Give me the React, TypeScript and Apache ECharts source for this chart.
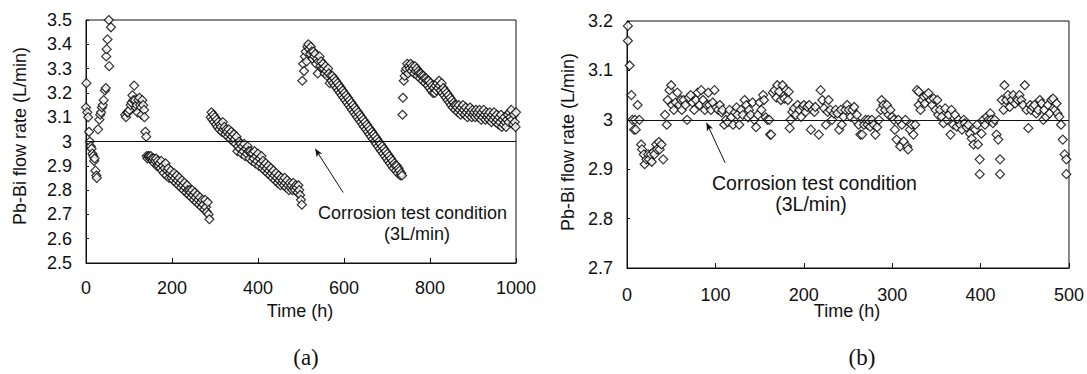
import React, { useEffect, useRef } from "react";
import * as echarts from "echarts";

// ---------- Panel (a): Pb-Bi flow rate vs time, 0-1000 h ----------
const A_SEG1: number[][] = [
  [1, 3.24], [0, 3.14], [3, 3.12], [5, 3.1], [7, 3.04], [9, 3.0], [11, 2.98], [13, 2.97], [15, 2.95],
  [17, 2.94], [19, 2.92], [20, 2.93], [22, 2.88], [24, 2.86], [25, 2.85],
];
const A_SEG2: number[][] = [
  [28, 3.05], [31, 3.09], [33, 3.11], [35, 3.12], [37, 3.14], [39, 3.15], [41, 3.17], [44, 3.21], [46, 3.22],
  [47, 3.35], [48, 3.38], [50, 3.42], [54, 3.31], [53, 3.5], [58, 3.47],
];
const A_SEG3: number[][] = [
  [91, 3.11], [93, 3.1], [96, 3.12], [98, 3.12], [101, 3.13], [104, 3.15], [106, 3.16], [108, 3.19], [110, 3.17],
  [112, 3.23], [114, 3.17], [116, 3.14], [118, 3.15], [120, 3.12], [122, 3.17], [124, 3.18], [126, 3.15],
  [128, 3.14], [129, 3.11], [131, 3.17], [133, 3.15], [135, 3.13], [136, 3.1], [138, 3.04], [140, 3.02],
];
const A_SEG4: number[][] = [
  [141, 2.94], [143, 2.93], [145, 2.94], [147, 2.94], [149, 2.93], [151, 2.94], [153, 2.93], [155, 2.92],
  [157, 2.93], [159, 2.91], [161, 2.92], [163, 2.93], [165, 2.9], [167, 2.92], [169, 2.9], [171, 2.91],
  [173, 2.89], [175, 2.92], [177, 2.88], [179, 2.9], [181, 2.87], [183, 2.89], [185, 2.91], [187, 2.86],
  [189, 2.88], [191, 2.89], [193, 2.85], [195, 2.87], [197, 2.88], [199, 2.85], [201, 2.86], [203, 2.84],
  [205, 2.87], [207, 2.85], [209, 2.83], [211, 2.86], [213, 2.84], [215, 2.82], [217, 2.85], [219, 2.83],
  [221, 2.81], [223, 2.84], [225, 2.82], [227, 2.8], [229, 2.83], [231, 2.81], [233, 2.79], [235, 2.82],
  [237, 2.8], [239, 2.78], [241, 2.8], [243, 2.79], [245, 2.77], [247, 2.8], [249, 2.78], [251, 2.76],
  [253, 2.79], [255, 2.77], [257, 2.75], [259, 2.78], [261, 2.76], [263, 2.74], [265, 2.77], [267, 2.75],
  [269, 2.73], [271, 2.76], [273, 2.74], [275, 2.72], [277, 2.76], [279, 2.73], [281, 2.71], [283, 2.75],
  [285, 2.7], [287, 2.68],
];
const A_SEG5: number[][] = [
  [290, 3.1], [292, 3.12], [294, 3.09], [296, 3.11], [298, 3.08], [300, 3.1], [302, 3.07], [304, 3.09],
  [306, 3.06], [308, 3.08], [310, 3.05], [312, 3.07], [314, 3.06], [316, 3.04], [318, 3.08], [320, 3.05],
  [322, 3.06], [324, 3.03], [326, 3.05], [328, 3.04], [330, 3.02], [332, 3.05], [334, 3.03], [336, 3.01],
  [338, 3.04], [340, 3.02], [342, 3.0], [344, 3.03], [346, 3.01], [348, 2.99], [350, 3.02], [352, 2.96],
  [354, 2.98], [356, 3.0], [358, 2.97], [360, 2.99], [362, 2.95], [364, 2.98], [366, 2.96], [368, 2.99],
  [370, 2.94], [372, 2.97], [374, 2.95], [376, 2.98], [378, 2.96], [380, 2.93], [382, 2.96], [384, 2.95],
  [386, 2.92], [388, 2.95], [390, 2.93], [392, 2.96], [394, 2.91], [396, 2.94], [398, 2.92], [400, 2.95],
  [402, 2.9], [404, 2.93], [406, 2.91], [408, 2.94], [410, 2.89], [412, 2.92], [414, 2.9], [416, 2.88],
  [418, 2.91], [420, 2.89], [422, 2.87], [424, 2.9], [426, 2.88], [428, 2.86], [430, 2.89], [432, 2.87],
  [434, 2.85], [436, 2.88], [438, 2.86], [440, 2.84], [442, 2.87], [444, 2.85], [446, 2.83], [448, 2.86],
  [450, 2.84], [452, 2.82], [454, 2.85], [456, 2.83], [458, 2.84], [460, 2.82], [462, 2.85], [464, 2.83],
  [466, 2.81], [468, 2.84], [470, 2.82], [472, 2.8], [474, 2.83], [476, 2.81], [478, 2.82], [480, 2.8],
  [482, 2.83], [484, 2.81], [486, 2.8], [488, 2.82], [490, 2.81], [492, 2.79], [494, 2.82], [496, 2.8],
  [498, 2.78], [500, 2.76], [502, 2.74],
];
const A_SEG6: number[][] = [
  [503, 3.25], [505, 3.32], [507, 3.29], [509, 3.35], [511, 3.37], [513, 3.33], [515, 3.39], [517, 3.4],
  [519, 3.38], [521, 3.36], [523, 3.39], [525, 3.37], [527, 3.34], [529, 3.37], [531, 3.35], [533, 3.36],
  [535, 3.32], [537, 3.34], [539, 3.28], [541, 3.33], [543, 3.35], [545, 3.31], [547, 3.33], [549, 3.3],
  [551, 3.32], [553, 3.3], [555, 3.28], [557, 3.31], [559, 3.29], [561, 3.27], [563, 3.3], [565, 3.28],
  [567, 3.24], [569, 3.27], [571, 3.25], [573, 3.27], [575, 3.24], [577, 3.26], [579, 3.23], [581, 3.25],
  [583, 3.22], [585, 3.24], [587, 3.21], [589, 3.23], [591, 3.2], [593, 3.22], [595, 3.19], [597, 3.21],
  [599, 3.18], [601, 3.2], [603, 3.17], [605, 3.19], [607, 3.16], [609, 3.18], [611, 3.15], [613, 3.17],
  [615, 3.14], [617, 3.16], [619, 3.13], [621, 3.15], [623, 3.12], [625, 3.14], [627, 3.11], [629, 3.13],
  [631, 3.1], [633, 3.12], [635, 3.09], [637, 3.11], [639, 3.08], [641, 3.1], [643, 3.07], [645, 3.09],
  [647, 3.06], [649, 3.08], [651, 3.05], [653, 3.07], [655, 3.04], [657, 3.06], [659, 3.03], [661, 3.05],
  [663, 3.02], [665, 3.04], [667, 3.01], [669, 3.03], [671, 3.0], [673, 3.02], [675, 2.99], [677, 3.01],
  [679, 2.98], [681, 3.0], [683, 2.97], [685, 2.99], [687, 2.96], [689, 2.98], [691, 2.95], [693, 2.97],
  [695, 2.94], [697, 2.96], [699, 2.93], [701, 2.95], [703, 2.92], [705, 2.94], [707, 2.91], [709, 2.93],
  [711, 2.9], [713, 2.92], [715, 2.89], [717, 2.91], [719, 2.9], [721, 2.88], [723, 2.9], [725, 2.87],
  [727, 2.89], [729, 2.88], [731, 2.86], [733, 2.87], [735, 2.86],
];
const A_SEG7: number[][] = [
  [736, 3.11], [737, 3.18], [739, 3.25], [741, 3.27], [743, 3.29], [745, 3.3], [747, 3.32], [749, 3.28],
  [751, 3.31], [753, 3.3], [755, 3.32], [757, 3.29], [759, 3.31], [761, 3.3], [763, 3.28], [765, 3.31],
  [767, 3.29], [769, 3.3], [771, 3.27], [773, 3.29], [775, 3.28], [777, 3.26], [779, 3.28], [781, 3.27],
  [783, 3.25], [785, 3.27], [787, 3.26], [789, 3.24], [791, 3.26], [793, 3.25], [795, 3.23], [797, 3.25],
  [799, 3.22], [801, 3.24], [803, 3.21], [805, 3.23], [807, 3.2], [809, 3.22], [811, 3.2], [813, 3.23],
  [815, 3.21], [817, 3.24], [819, 3.22], [821, 3.25], [823, 3.23], [825, 3.21], [827, 3.24], [829, 3.2],
  [831, 3.22], [833, 3.19], [835, 3.21], [837, 3.18], [839, 3.2], [841, 3.17], [843, 3.19], [845, 3.16],
  [847, 3.18], [849, 3.15], [851, 3.17], [853, 3.14], [855, 3.16], [857, 3.15], [859, 3.13], [861, 3.15],
  [863, 3.14], [865, 3.12], [867, 3.15], [869, 3.13], [871, 3.11], [873, 3.14], [875, 3.12], [877, 3.15],
  [879, 3.13], [881, 3.11], [883, 3.14], [885, 3.12], [887, 3.1], [889, 3.13], [891, 3.11], [893, 3.14],
  [895, 3.12], [897, 3.1], [899, 3.13], [901, 3.11], [903, 3.12], [905, 3.1], [907, 3.13], [909, 3.11],
  [911, 3.12], [913, 3.1], [915, 3.13], [917, 3.11], [919, 3.09], [921, 3.12], [923, 3.1], [925, 3.13],
  [927, 3.11], [929, 3.09], [931, 3.12], [933, 3.1], [935, 3.11], [937, 3.09], [939, 3.12], [941, 3.1],
  [943, 3.08], [945, 3.11], [947, 3.09], [949, 3.12], [951, 3.1], [953, 3.08], [955, 3.11], [957, 3.09],
  [959, 3.07], [961, 3.1], [963, 3.08], [965, 3.11], [967, 3.06], [969, 3.09], [971, 3.07], [973, 3.1],
  [975, 3.08], [977, 3.06], [979, 3.09], [981, 3.11], [983, 3.08], [985, 3.12], [987, 3.1], [989, 3.13],
  [991, 3.09], [993, 3.07], [995, 3.11], [997, 3.08], [999, 3.06], [1000, 3.12],
];

// ---------- Panel (b): Pb-Bi flow rate vs time, 0-500 h ----------
const B_SEG1: number[][] = [
  [1, 3.19], [1, 3.16], [3, 3.11], [5, 3.05], [6, 3.0], [8, 2.98], [9, 3.0], [10, 2.98], [12, 3.03], [14, 3.0],
  [16, 2.95], [17, 2.94], [19, 2.93], [20, 2.91], [22, 2.92], [24, 2.93], [25, 2.92], [27, 2.93], [28, 2.915],
  [30, 2.935], [31, 2.93], [33, 2.95], [34, 2.94], [36, 2.955], [37, 2.94], [39, 2.95], [41, 2.92],
];
const B_SEG2: number[][] = [
  [43, 3.01], [45, 2.99], [46, 3.04], [48, 3.06], [50, 3.07], [51, 3.03], [53, 3.02], [55, 3.035], [57, 3.055],
  [59, 3.03], [61, 3.04], [62, 3.02], [64, 3.04], [66, 3.03], [68, 3.0], [70, 3.045], [72, 3.05], [74, 3.035],
  [76, 3.02], [78, 3.04], [80, 3.055], [82, 3.03], [84, 3.06], [86, 3.04], [88, 3.02], [90, 3.03], [92, 3.055],
  [93, 3.03], [95, 3.02], [97, 3.035], [99, 3.06], [101, 3.025], [103, 3.02], [105, 3.03], [107, 3.015],
  [108, 3.02], [110, 2.99], [112, 3.0], [114, 2.995], [116, 3.02], [118, 3.005], [120, 2.99], [122, 3.015],
  [124, 3.025], [125, 3.01], [127, 2.99], [129, 3.02], [131, 3.01], [133, 3.04], [135, 3.03], [137, 3.005],
  [138, 3.02], [140, 3.01], [142, 3.035], [144, 3.0], [146, 2.985], [148, 3.01], [150, 3.035], [152, 3.02],
  [154, 3.05], [155, 3.04], [157, 3.005], [159, 3.0], [161, 3.0], [162, 2.97], [163, 2.97],
];
const B_SEG3: number[][] = [
  [165, 3.055], [167, 3.06], [169, 3.045], [170, 3.07], [172, 3.057], [174, 3.04], [176, 3.07], [178, 3.043],
  [180, 3.06], [182, 3.04], [183, 3.057], [184, 2.983], [185, 3.0], [187, 3.016], [189, 3.023], [191, 3.01],
  [193, 3.03], [195, 3.02], [197, 3.006], [199, 3.026], [200, 3.03], [202, 3.016], [204, 3.026], [206, 3.03],
  [208, 2.98], [210, 3.02], [212, 3.016], [213, 3.026], [217, 2.97], [219, 3.06], [221, 3.04], [223, 3.023],
  [225, 2.99], [227, 3.016], [228, 3.04], [230, 3.02], [232, 3.0], [234, 3.013], [236, 3.02], [238, 3.013],
  [240, 2.98], [242, 3.02], [243, 2.99], [245, 3.006], [247, 3.02], [249, 3.03], [251, 3.02], [253, 3.006],
  [255, 3.02], [257, 3.026], [258, 3.0], [260, 3.01], [262, 2.99], [264, 2.97], [266, 2.97], [268, 2.99],
  [270, 3.0], [272, 2.99], [273, 3.0], [275, 2.986], [277, 3.0], [279, 2.99], [281, 2.97], [283, 2.985],
  [285, 3.0], [287, 3.02], [288, 3.04], [290, 3.03], [292, 3.02], [294, 3.03], [296, 3.01], [298, 3.02],
  [300, 3.006], [302, 3.0], [303, 2.98], [305, 2.96], [307, 3.0], [309, 2.946], [311, 2.99], [313, 2.956],
  [315, 3.0], [317, 2.946], [318, 2.94], [320, 2.98], [322, 2.99], [324, 2.97], [326, 2.99], [328, 3.06],
];
const B_SEG4: number[][] = [
  [330, 3.03], [330, 3.057], [332, 3.02], [334, 3.04], [336, 3.047], [337, 3.033], [339, 3.05], [341, 3.054],
  [343, 3.04], [345, 3.03], [347, 3.043], [349, 3.02], [351, 3.04], [352, 3.01], [354, 3.02], [356, 3.006],
  [358, 2.993], [360, 3.023], [362, 3.0], [364, 3.01], [366, 2.97], [367, 3.02], [369, 2.99], [371, 3.01],
  [373, 2.986], [375, 3.0], [377, 2.99], [379, 2.98], [381, 3.0], [382, 2.993], [384, 2.985], [386, 2.99],
  [388, 2.972], [390, 2.962], [392, 2.95], [394, 2.98], [396, 2.99], [397, 2.95], [399, 2.92], [399, 2.89],
  [401, 2.972], [403, 3.0], [405, 2.99], [407, 3.006], [409, 3.0], [411, 3.013], [412, 3.0], [414, 2.993],
  [416, 3.0], [418, 2.97], [420, 2.96], [422, 2.92], [422, 2.89], [424, 3.04], [426, 3.02], [427, 3.07],
  [429, 3.04], [431, 3.05], [433, 3.026], [435, 3.04], [437, 3.05], [439, 3.033], [441, 3.043], [442, 3.04],
  [444, 3.05], [446, 3.04], [448, 3.03], [450, 3.07], [452, 3.02], [454, 2.983], [456, 3.03], [457, 3.02],
  [459, 3.026], [461, 3.03], [463, 3.013], [465, 3.02], [467, 3.04], [469, 3.033], [471, 3.0], [472, 3.02],
  [474, 3.006], [476, 3.03], [478, 3.013], [480, 3.04], [482, 3.043], [484, 3.02], [486, 3.033], [487, 3.013],
  [489, 3.006], [491, 2.99], [493, 2.96], [495, 2.93], [497, 2.92], [497, 2.89],
];

// axes / reference
const X_TICKS_A = { min: 0, max: 1000, interval: 200 };
const Y_TICKS_A = { min: 2.5, max: 3.5, interval: 0.1 };
const X_TICKS_B = { min: 0, max: 500, interval: 100 };
const Y_TICKS_B = { min: 2.7, max: 3.2, interval: 0.1 };
const TEST_CONDITION = 3.0;
// annotation arrows (data coordinates: tail -> head)
const ARROW_A = [[598, 2.79], [533, 2.97]];
const ARROW_B = [[111, 2.913], [90, 2.994]];

const FONT = "'Liberation Sans', Arial, sans-serif";
const SERIF = "'Liberation Serif', 'Times New Roman', serif";
const INK = "#111";

function axisX(grid: number, t: { min: number; max: number; interval: number }, margin: number) {
  return {
    type: "value",
    gridIndex: grid,
    min: t.min,
    max: t.max,
    interval: t.interval,
    axisLine: { show: true, lineStyle: { color: INK, width: 1 } },
    axisTick: { show: true, inside: true, length: 5, lineStyle: { color: INK } },
    axisLabel: { color: INK, fontSize: 18, fontFamily: FONT, margin, formatter: (v: number) => String(v) },
    splitLine: { show: false },
  };
}
function axisY(grid: number, t: { min: number; max: number; interval: number }) {
  return {
    type: "value",
    gridIndex: grid,
    min: t.min,
    max: t.max,
    interval: t.interval,
    axisLine: { show: true, lineStyle: { color: INK, width: 1 } },
    axisTick: { show: true, inside: true, length: 3, lineStyle: { color: INK } },
    axisLabel: { color: INK, fontSize: 18, fontFamily: FONT, margin: 14 },
    splitLine: { show: false },
  };
}

function scatter(idx: number, data: number[][], xr: { min: number; max: number }, arrow: number[][]) {
  return {
    type: "scatter",
    xAxisIndex: idx,
    yAxisIndex: idx,
    data,
    symbol: "diamond",
    symbolSize: 9,
    itemStyle: { color: "#fff", borderColor: "#000", borderWidth: 1.2 },
    silent: true,
    markLine: {
      silent: true,
      symbol: ["none", "none"],
      label: { show: false },
      lineStyle: { color: INK, width: 1, type: "solid" },
      data: [
        [
          { coord: [xr.min, TEST_CONDITION], symbol: "none" },
          { coord: [xr.max, TEST_CONDITION], symbol: "none" },
        ],
        [
          { coord: arrow[0], symbol: "none" },
          { coord: arrow[1], symbol: "arrow", symbolSize: [5, 8] },
        ],
      ],
    },
  };
}

function txt(x: number, y: number, text: string, size: number, align = "center", family = FONT, rotation = 0) {
  return {
    type: "text",
    x,
    y,
    rotation,
    silent: true,
    style: {
      text,
      fontSize: size,
      fontFamily: family,
      fill: INK,
      align,
      textAlign: align,
      verticalAlign: "middle",
      textVerticalAlign: "middle",
    },
  };
}

export default function App() {
  const ref = useRef<HTMLDivElement>(null);
  useEffect(() => {
    const chart = echarts.init(ref.current!, null, { renderer: "svg" });
    const dataA = [...A_SEG1, ...A_SEG2, ...A_SEG3, ...A_SEG4, ...A_SEG5, ...A_SEG6, ...A_SEG7];
    const dataB = [...B_SEG1, ...B_SEG2, ...B_SEG3, ...B_SEG4];
    chart.setOption({
      animation: false,
      backgroundColor: "#fff",
      grid: [
        { left: 86, top: 20, width: 430, height: 243, show: true, borderColor: INK, borderWidth: 1 },
        { left: 627, top: 21, width: 444, height: 247, show: true, borderColor: INK, borderWidth: 1 },
      ],
      xAxis: [axisX(0, X_TICKS_A, 16), axisX(1, X_TICKS_B, 18)],
      yAxis: [axisY(0, Y_TICKS_A), axisY(1, Y_TICKS_B)],
      series: [scatter(0, dataA, X_TICKS_A, ARROW_A), scatter(1, dataB, X_TICKS_B, ARROW_B)],
      graphic: [
        txt(20, 136, "Pb-Bi flow rate (L/min)", 18, "center", FONT, Math.PI / 2),
        txt(568, 142, "Pb-Bi flow rate (L/min)", 18, "center", FONT, Math.PI / 2),
        txt(300, 311, "Time (h)", 18),
        txt(847, 311, "Time (h)", 18),
        txt(306, 357, "(a)", 23, "center", SERIF),
        txt(862, 357, "(b)", 23, "center", SERIF),
        txt(318, 213, "Corrosion test condition", 18, "left"),
        txt(417, 234, "(3L/min)", 18),
        txt(712, 183, "Corrosion test condition", 19.5, "left"),
        txt(811, 204, "(3L/min)", 19.5),
      ],
    });
    return () => chart.dispose();
  }, []);
  return (
    <div
      ref={ref}
      style={{ position: "absolute", left: 0, top: 0, width: 1087, height: 374, background: "#fff" }}
    />
  );
}
